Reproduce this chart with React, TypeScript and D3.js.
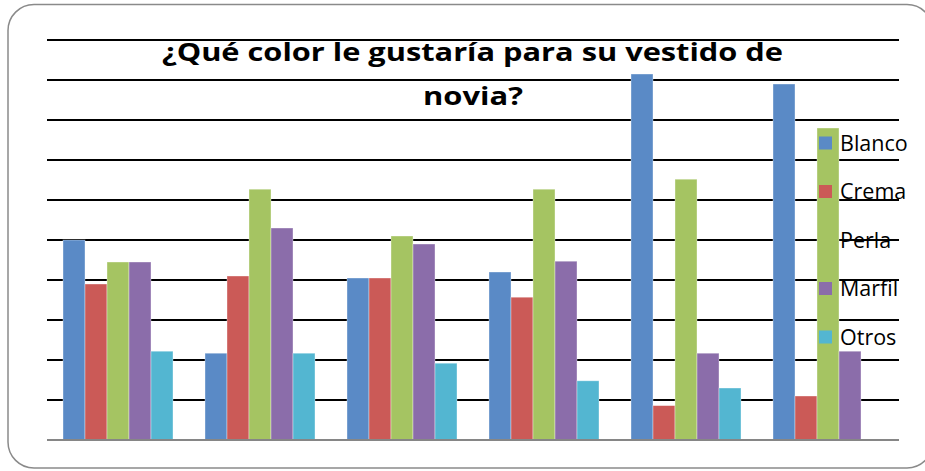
import React from "react";
import * as d3 from "d3";

const groups = ["G1", "G2", "G3", "G4", "G5", "G6"];
const seriesNames = ["Blanco", "Crema", "Perla", "Marfil", "Otros"];
const blanco = [5.0, 2.17, 4.05, 4.2, 9.15, 8.9];
const crema = [3.9, 4.1, 4.05, 3.57, 0.86, 1.1];
const perla = [4.45, 6.27, 5.1, 6.27, 6.52, 7.8];
const marfil = [4.45, 5.3, 4.9, 4.47, 2.17, 2.22];
const otros = [2.22, 2.17, 1.92, 1.48, 1.3, 0];
const yTicks = [1, 2, 3, 4, 5, 6, 7, 8, 9, 10];
const colors = ["#5A8AC6", "#CB5A57", "#A5C462", "#8B6DAA", "#53B6D1"];
const titleLines = ["¿Qué color le gustaría para su vestido de", "novia?"];

const seriesValues = [blanco, crema, perla, marfil, otros];

export default function App() {
  const W = 925;
  const H = 471;
  const left = 47;
  const right = 899;
  const x0 = d3
    .scaleBand<string>()
    .domain(groups)
    .range([left, right])
    .paddingInner(32 / 142)
    .paddingOuter(16 / 142);
  const x1 = d3
    .scaleBand<string>()
    .domain(seriesNames)
    .range([0, x0.bandwidth()]);
  const y = d3.scaleLinear().domain([0, 10]).range([440, 40]);

  return (
    <svg
      width={W}
      height={H}
      style={{ position: "absolute", left: 0, top: 0, background: "#fff" }}
      fontFamily="'Open Sans', sans-serif"
    >
      <rect x={0} y={0} width={W} height={H} fill="#fff" />
      <rect
        x={8}
        y={4.5}
        width={925}
        height={463.5}
        rx={26}
        ry={26}
        fill="#fff"
        stroke="#8a8a8a"
        strokeWidth={1.5}
      />
      {yTicks.map((t) => (
        <line
          key={t}
          x1={left}
          x2={right}
          y1={y(t)}
          y2={y(t)}
          stroke="#000"
          strokeWidth={2.2}
        />
      ))}
      {groups.map((g, gi) => (
        <g key={g} transform={`translate(${x0(g)},0)`}>
          {seriesNames.map((s, si) => {
            const v = seriesValues[si][gi];
            if (!v) return null;
            return (
              <rect
                key={s}
                x={x1(s)}
                y={y(v)}
                width={x1.bandwidth()}
                height={y(0) - y(v)}
                fill={colors[si]}
                stroke="rgba(255,255,255,0.45)"
                strokeWidth={0.8}
              />
            );
          })}
        </g>
      ))}
      <line
        x1={left}
        x2={right}
        y1={y(0)}
        y2={y(0)}
        stroke="#868686"
        strokeWidth={2}
      />
      <text
        x={472.5}
        y={61}
        textAnchor="middle"
        fontWeight="bold"
        fontSize={25}
        textLength={621}
        lengthAdjust="spacingAndGlyphs"
        fill="#000"
      >
        {titleLines[0]}
      </text>
      <text
        x={473}
        y={105}
        textAnchor="middle"
        fontWeight="bold"
        fontSize={25}
        textLength={100}
        lengthAdjust="spacingAndGlyphs"
        fill="#000"
      >
        {titleLines[1]}
      </text>
      {seriesNames.map((s, i) => {
        const cy = 143 + i * 48.5;
        return (
          <g key={s}>
            <rect x={819} y={cy - 6.5} width={13} height={13} fill={colors[i]} />
            <text x={840} y={cy + 7.5} fontSize={21.5} fill="#000">
              {s}
            </text>
          </g>
        );
      })}
    </svg>
  );
}
